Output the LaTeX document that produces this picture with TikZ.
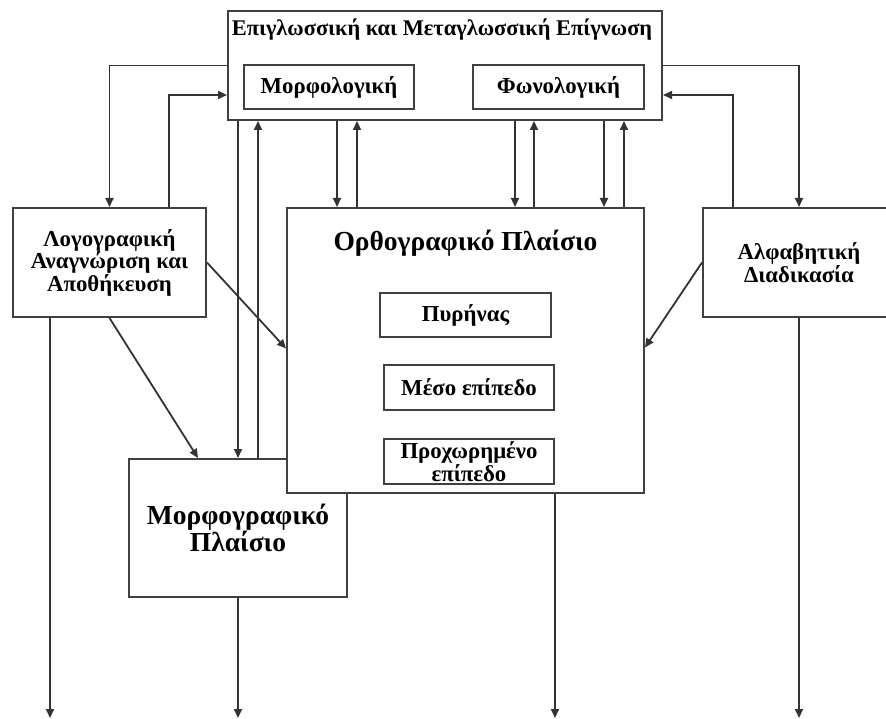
\documentclass[tikz,border=0pt]{standalone}
\usepackage{fontspec}
\setmainfont{Liberation Serif}
\usetikzlibrary{arrows.meta,positioning,calc}
\newcommand{\smallfnt}{\fontsize{22.8}{22.5}\selectfont\bfseries}
\newcommand{\bigfnt}{\fontsize{27.5}{27}\selectfont\bfseries}
\tikzset{
  box/.style   ={rectangle, draw=black!75, line width=2pt, fill=white,
                 align=center, inner sep=0pt, font=\smallfnt},
  bigbox/.style={box, font=\bigfnt},
  ar/.style    ={-{Triangle[length=9pt,width=8pt]}, line width=1.8pt, draw=black!80},
}
\begin{document}
\begin{tikzpicture}[x=1pt, y=-1pt]
\useasboundingbox (0,0) rectangle (886,719);
\coordinate (bot) at (0,718);

% awareness box
\node[box, minimum width=434pt, minimum height=109pt] (meta) at (445,65.5) {};
\node[font=\fontsize{22.4}{22}\selectfont\bfseries, inner sep=0pt] (metat) at (442,30)
  {Επιγλωσσική και Μεταγλωσσική Επίγνωση};
\node[box, minimum width=170pt, minimum height=44pt] (morf) at (329,87) {Μορφολογική};
\node[box, minimum width=171pt, minimum height=44pt] (fon) at (558.5,87) {Φωνολογική};

% side boxes
\node[box, minimum width=193pt, minimum height=109pt] (logo) at (109.5,262.5)
  {Λογογραφική\\Αναγνώριση και\\Αποθήκευση};
\node[box, minimum width=192pt, minimum height=109pt] (alfa) at (799,262.5)
  {Αλφαβητική\\Διαδικασία};

% morphographic box (under the orthographic one)
\node[bigbox, minimum width=218pt, minimum height=138pt] (morfg) at (238,528)
  {Μορφογραφικό\\Πλαίσιο};

% orthographic box
\node[bigbox, minimum width=357pt, minimum height=285pt] (ortho) at (465.5,350.5) {};
\node[font=\bigfnt, inner sep=0pt] (orthot) at (465.5,243) {Ορθογραφικό Πλαίσιο};
\node[box, minimum width=171pt, minimum height=44pt] (pyr) at (465.5,315) {Πυρήνας};
\node[box, minimum width=170pt, minimum height=45pt, below=26pt of pyr, xshift=3.5pt] (meso) {Μέσο επίπεδο};
\node[box, minimum width=170pt, minimum height=45pt, below=27pt of meso] (prox) {Προχωρημένο\\επίπεδο};

% links with the awareness box
\draw[ar] (meta.west) -| (logo.north);
\draw[ar] ($(logo.north)+(59.5,0)$) |- ($(meta.west)+(0,29.5)$);
\draw[ar] (meta.east) -| (alfa.north);
\draw[ar] ($(alfa.north)+(-66,0)$) |- ($(meta.east)+(0,29.5)$);
\draw[ar] (meta.south -| morfg.north) -- (morfg.north);
\draw[ar] ($(morfg.north)+(20,0)$) -- ($(meta.south -| morfg.north)+(20,0)$);
\foreach \x in {337,515,604}
  \draw[ar] (\x,0 |- meta.south) -- (\x,0 |- ortho.north);
\foreach \x in {357,534,624}
  \draw[ar] (\x,0 |- ortho.north) -- (\x,0 |- meta.south);

% diagonals
\draw[ar] (logo.east) -- ($(ortho.west)+(0,-2)$);
\draw[ar] (logo.south) -- ($(morfg.north)+(-40,0)$);
\draw[ar] (alfa.west) -- ($(ortho.east)+(0,-3)$);

% outputs
\draw[ar] ($(logo.south)+(-59.5,0)$) coordinate (lo) -- (lo |- bot);
\draw[ar] (morfg.south) -- (morfg.south |- bot);
\draw[ar] (prox.east |- ortho.south) -- (prox.east |- bot);
\draw[ar] (alfa.south) -- (alfa.south |- bot);
\end{tikzpicture}
\end{document}
